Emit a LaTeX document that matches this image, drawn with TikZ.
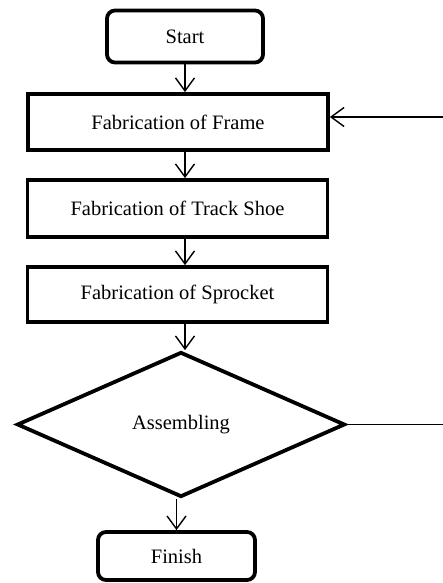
\documentclass[tikz,border=0pt]{standalone}
\usepackage{fontspec}
\setmainfont{Liberation Serif}
\usetikzlibrary{arrows.meta,shapes.geometric}
\begin{document}
\begin{tikzpicture}[x=1pt,y=-1pt,
  every node/.style={font=\fontsize{20.5}{24}\selectfont, inner sep=0pt},
  procbox/.style={draw, line width=3.8pt, rectangle, minimum width=300pt, minimum height=56pt},
  termbox/.style={draw, line width=3.8pt, rectangle, rounded corners=8pt, minimum width=156pt, minimum height=52pt},
  decbox/.style={draw, line width=3.8pt, diamond, minimum width=328pt, minimum height=145pt, aspect=2.26},
  arr/.style={line width=1.4pt, -{Straight Barb[length=13pt,width=19pt,line width=1.4pt]}},
  plain/.style={line width=1.4pt}]
\useasboundingbox (0,0) rectangle (443,583);
\node[termbox] (start) at (185,36.5) {Start};
\node[procbox] (frame) at (178,122) {Fabrication of Frame};
\node[procbox, minimum height=57pt] (track) at (177.5,208.5) {Fabrication of Track Shoe};
\node[procbox, minimum height=55pt] (sprocket) at (177.5,294.5) {Fabrication of Sprocket};
\node[decbox] (assemble) at (181,424.5) {Assembling};
\node[termbox, minimum width=157pt, minimum height=48pt] (finish) at (176.5,556) {Finish};
\coordinate (r1) at (443,425);
\coordinate (r2) at (443,117);
\draw[arr] (start.south) -- (start.south |- frame.north);
\draw[arr] (frame.south -| start.south) -- (track.north -| start.south);
\draw[arr] (track.south -| start.south) -- (sprocket.north -| start.south);
\draw[arr] (sprocket.south -| start.south) -- (assemble.north -| start.south);
\draw[arr] (assemble.south -| finish.north) -- (finish.north);
\draw[plain] (assemble.east) -- (assemble.east -| r1);
\draw[arr] (r2) -- (r2 -| frame.east);
\end{tikzpicture}
\end{document}
